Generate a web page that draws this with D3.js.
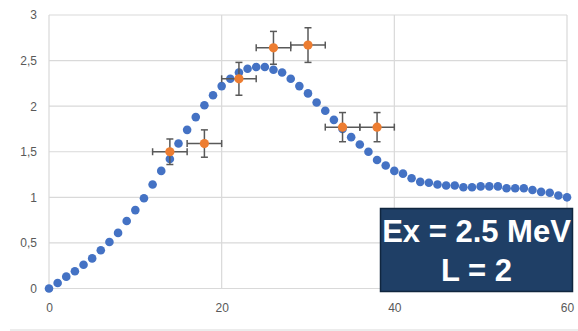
<!DOCTYPE html>
<html><head><meta charset="utf-8">
<script src="https://cdn.jsdelivr.net/npm/d3@7"></script>
<style>html,body{margin:0;padding:0;background:#fff;}svg{display:block;}</style>
</head><body>
<svg id="c" width="578" height="331"></svg>
<script>
const curveX = d3.range(0, 61);
const curveY = [0,0.06,0.13,0.19,0.26,0.33,0.42,0.51,0.61,0.74,0.86,0.99,1.14,1.29,1.42,1.59,1.74,1.88,2.01,2.12,
  2.22,2.30,2.37,2.41,2.43,2.43,2.40,2.37,2.30,2.22,2.14,2.04,1.95,1.85,1.75,1.66,1.58,1.50,1.41,1.35,
  1.29,1.26,1.21,1.17,1.16,1.14,1.13,1.13,1.11,1.11,1.12,1.12,1.12,1.10,1.10,1.10,1.08,1.06,1.05,1.02,1.00];
const dataX = [14,18,22,26,30,34,38];
const dataY = [1.50,1.59,2.30,2.64,2.67,1.77,1.77];
const dataXErr = [2,2,2,2,2,2,2];
const dataYErr = [0.14,0.15,0.18,0.18,0.19,0.16,0.16];
const xTicks = [0,20,40,60];
const yTicks = [0,0.5,1,1.5,2,2.5,3];
const yTickLabels = ["0","0,5","1","1,5","2","2,5","3"];
const labelLines = ["Ex = 2.5 MeV","L = 2"];

const svg = d3.select("#c");
const x = d3.scaleLinear().domain([0,60]).range([49,567]);
const y = d3.scaleLinear().domain([0,3]).range([288.5,15]);

svg.append("line").attr("x1",10).attr("x2",578).attr("y1",330).attr("y2",330).attr("stroke","#d9d9d9");

svg.append("g").selectAll("line").data(yTicks).join("line")
  .attr("x1",x(0)).attr("x2",x(60)).attr("y1",d=>y(d)).attr("y2",d=>y(d))
  .attr("stroke","#d9d9d9").attr("stroke-width",1.2);
svg.append("g").selectAll("line").data(xTicks).join("line")
  .attr("x1",d=>x(d)).attr("x2",d=>x(d)).attr("y1",y(0)).attr("y2",y(3))
  .attr("stroke","#d9d9d9").attr("stroke-width",1.2);

const yAxis = d3.axisLeft(y).tickValues(yTicks).tickSize(0).tickPadding(12)
  .tickFormat((d,i)=>yTickLabels[i]);
const gy = svg.append("g").attr("transform",`translate(${x(0)},0)`).call(yAxis);
gy.select(".domain").remove();
gy.selectAll("text").attr("font-family","Liberation Sans, Arial, sans-serif").attr("font-size",12).attr("fill","#595959");

const xAxis = d3.axisBottom(x).tickValues(xTicks).tickSize(0).tickPadding(15);
const gx = svg.append("g").attr("transform",`translate(0,${y(0)})`).call(xAxis);
gx.select(".domain").remove();
gx.selectAll("text").attr("font-family","Liberation Sans, Arial, sans-serif").attr("font-size",12).attr("fill","#595959");

svg.append("g").selectAll("circle").data(curveX).join("circle")
  .attr("cx",d=>x(d)).attr("cy",(d,i)=>y(curveY[i])).attr("r",4.3).attr("fill","#4472C4");

const eb = svg.append("g").attr("stroke","#595959").attr("stroke-width",1.5);
const cap = 3.5;
dataX.forEach((dx,i)=>{
  const cx = x(dx), cy = y(dataY[i]);
  const x0 = x(dx-dataXErr[i]), x1 = x(dx+dataXErr[i]);
  const y0 = y(dataY[i]-dataYErr[i]), y1 = y(dataY[i]+dataYErr[i]);
  eb.append("line").attr("x1",x0).attr("x2",x1).attr("y1",cy).attr("y2",cy);
  eb.append("line").attr("x1",x0).attr("x2",x0).attr("y1",cy-cap).attr("y2",cy+cap);
  eb.append("line").attr("x1",x1).attr("x2",x1).attr("y1",cy-cap).attr("y2",cy+cap);
  eb.append("line").attr("x1",cx).attr("x2",cx).attr("y1",y0).attr("y2",y1);
  eb.append("line").attr("x1",cx-cap).attr("x2",cx+cap).attr("y1",y0).attr("y2",y0);
  eb.append("line").attr("x1",cx-cap).attr("x2",cx+cap).attr("y1",y1).attr("y2",y1);
});
svg.append("g").selectAll("circle").data(dataX).join("circle")
  .attr("cx",d=>x(d)).attr("cy",(d,i)=>y(dataY[i])).attr("r",4.6).attr("fill","#ED7D31");

const box = svg.append("g");
box.append("rect").attr("x",380.5).attr("y",208.5).attr("width",192).attr("height",83)
  .attr("fill","#1F3F66").attr("stroke","#10263f").attr("stroke-width",1.5);
box.selectAll("text").data(labelLines).join("text")
  .attr("x",476.5).attr("y",(d,i)=>i===0?242:281)
  .attr("text-anchor","middle").attr("fill","#fff")
  .attr("font-family","Liberation Sans, Arial, sans-serif").attr("font-weight","bold")
  .attr("font-size",31).text(d=>d);
</script>
</body></html>
